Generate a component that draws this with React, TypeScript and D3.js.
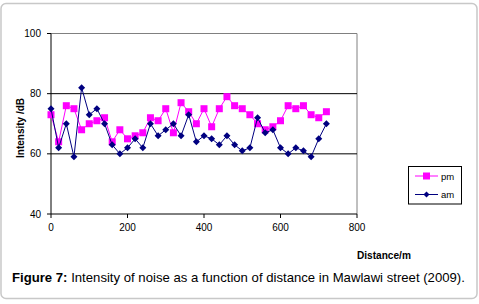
import React from "react";
import * as d3 from "d3";

const distances = [0,20,40,60,80,100,120,140,160,180,200,220,240,260,280,300,320,340,360,380,400,420,440,460,480,500,520,540,560,580,600,620,640,660,680,700,720];
const amValues = [75,62,70,59,82,73,75,70,63,60,62,65,62,70,66,68,70,66,73,64,66,65,63,66,63,61,62,72,67,68,62,60,62,61,59,65,70];
const pmValues = [73,64,76,75,68,70,71,72,64,68,65,66,67,72,71,75,67,77,74,70,75,69,75,79,76,75,73,70,68,69,71,76,75,76,73,72,74];
const xTicks = [0,200,400,600,800];
const yTicks = [40,60,80,100];
const gridValues = [60,80];

export default function App() {
  const W = 479, H = 304;
  const x = d3.scaleLinear().domain([0, 800]).range([51, 357]);
  const y = d3.scaleLinear().domain([40, 100]).range([214, 33.5]);
  const line = d3.line<number>().x((_, i) => x(distances[i])).y((v) => y(v));
  const font = "'Liberation Sans', Arial, sans-serif";
  return (
    <svg width={W} height={H} style={{ position: "absolute", left: 0, top: 0 }}>
      <rect x={1} y={3.5} width={476} height={295} rx={5} fill="#fff" stroke="#c8c8c8" strokeWidth={1.5} />
      <line x1={x(0)} x2={x(800)} y1={y(100)} y2={y(100)} stroke="#808080" strokeWidth={1} />
      <line x1={x(800)} x2={x(800)} y1={y(100)} y2={y(40)} stroke="#808080" strokeWidth={1} />
      {gridValues.map((g) => (
        <line key={g} x1={x(0)} x2={x(800)} y1={y(g)} y2={y(g)} stroke="#000" strokeWidth={1} />
      ))}
      <line x1={x(0)} x2={x(0)} y1={y(100)} y2={y(40)} stroke="#000" strokeWidth={1} />
      <line x1={x(0)} x2={x(800)} y1={y(40)} y2={y(40)} stroke="#000" strokeWidth={1} />
      {yTicks.map((t) => (
        <g key={t}>
          <line x1={x(0) - 4} x2={x(0)} y1={y(t)} y2={y(t)} stroke="#000" />
          <text x={41} y={y(t) + 3.5} textAnchor="end" fontSize={10} fontFamily={font} fill="#000">{t}</text>
        </g>
      ))}
      {xTicks.map((t) => (
        <g key={t}>
          <line x1={x(t)} x2={x(t)} y1={y(40)} y2={y(40) + 4} stroke="#000" />
          <text x={x(t)} y={231} textAnchor="middle" fontSize={10} fontFamily={font} fill="#000">{t}</text>
        </g>
      ))}
      <path d={line(pmValues) || ""} fill="none" stroke="#ff00ff" strokeWidth={1} />
      {pmValues.map((v, i) => (
        <rect key={"p" + i} x={x(distances[i]) - 3.5} y={y(v) - 3.5} width={7} height={7} fill="#ff00ff" />
      ))}
      <path d={line(amValues) || ""} fill="none" stroke="#000080" strokeWidth={1} />
      {amValues.map((v, i) => (
        <path key={"a" + i} d={`M${x(distances[i])},${y(v) - 3.5}l3.5,3.5l-3.5,3.5l-3.5,-3.5z`} fill="#000080" />
      ))}
      <rect x={408.5} y={166.5} width={53} height={37.5} fill="#fff" stroke="#000" strokeWidth={1} />
      <line x1={415} x2={438} y1={176} y2={176} stroke="#ff00ff" />
      <rect x={423} y={172.5} width={7} height={7} fill="#ff00ff" />
      <text x={441} y={179.5} fontSize={9.5} fontFamily={font} fill="#000">pm</text>
      <line x1={415} x2={438} y1={194.5} y2={194.5} stroke="#000080" />
      <path d={`M426.5,191.5l3,3l-3,3l-3,-3z`} fill="#000080" />
      <text x={441} y={198} fontSize={9.5} fontFamily={font} fill="#000">am</text>
      <text x={357} y={259} fontSize={10.1} fontWeight="bold" fontFamily={font} fill="#000">Distance/m</text>
      <text transform="translate(24,128) rotate(-90)" textAnchor="middle" fontSize={10} fontWeight="bold" fontFamily={font} fill="#000">Intensity /dB</text>
      <text x={12} y={282} fontSize={13.15} fontFamily={font} fill="#000">
        <tspan fontWeight="bold">Figure 7:</tspan> Intensity of noise as a function of distance in Mawlawi street (2009).
      </text>
    </svg>
  );
}
